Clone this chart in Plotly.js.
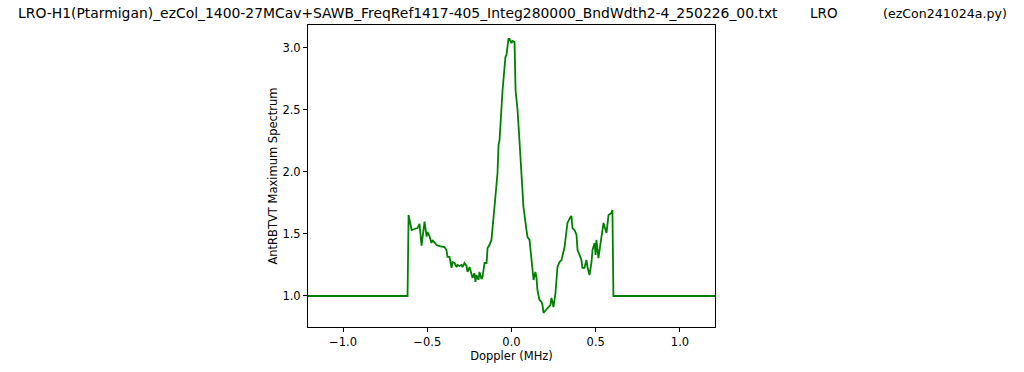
<!DOCTYPE html>
<html>
<head>
<meta charset="utf-8">
<script src="https://cdn.plot.ly/plotly-3.0.1.min.js"></script>
<style>html,body{margin:0;padding:0;background:#fff;}#chart{width:1024px;height:372px;}</style>
</head>
<body>
<div id="chart"></div>
<script>
const doppler = [
 -1.25, -0.617, -0.611, -0.593, -0.576, -0.558, -0.546, -0.534, -0.516, -0.504, -0.499, -0.487,
 -0.475, -0.469, -0.457, -0.445, -0.427, -0.409, -0.398, -0.386, -0.380, -0.368, -0.356, -0.350,
 -0.338, -0.326, -0.320, -0.309, -0.297, -0.291, -0.279, -0.267, -0.261, -0.249, -0.237, -0.231,
 -0.220, -0.214, -0.208, -0.196, -0.190, -0.178, -0.172, -0.160, -0.148, -0.142, -0.131, -0.119,
 -0.101, -0.083, -0.077, -0.071, -0.053, -0.036, -0.030, -0.018, -0.012, 0.000, 0.006, 0.018,
 0.024, 0.036, 0.047, 0.059, 0.071, 0.089, 0.095, 0.107, 0.119, 0.125, 0.131, 0.142, 0.148,
 0.154, 0.166, 0.178, 0.184, 0.190, 0.202, 0.214, 0.231, 0.237, 0.243, 0.249, 0.261, 0.267,
 0.273, 0.285, 0.297, 0.315, 0.326, 0.332, 0.350, 0.356, 0.362, 0.374, 0.386, 0.392, 0.404,
 0.415, 0.421, 0.433, 0.445, 0.451, 0.463, 0.475, 0.481, 0.493, 0.499, 0.504, 0.516, 0.528,
 0.534, 0.546, 0.564, 0.576, 0.593, 0.599, 0.605, 1.25
];
const spectrum = [
 1.000, 1.000, 1.653, 1.532, 1.540, 1.548, 1.581, 1.406, 1.599, 1.478, 1.516, 1.484,
 1.427, 1.452, 1.430, 1.411, 1.403, 1.399, 1.395, 1.371, 1.315, 1.315, 1.226, 1.274,
 1.266, 1.234, 1.250, 1.242, 1.250, 1.234, 1.266, 1.242, 1.194, 1.234, 1.169, 1.145,
 1.185, 1.113, 1.169, 1.129, 1.194, 1.137, 1.153, 1.266, 1.266, 1.387, 1.411, 1.452,
 1.718, 1.992, 2.218, 2.258, 2.661, 2.927, 2.944, 3.073, 3.073, 3.040, 3.056, 3.048,
 2.661, 2.500, 2.258, 1.992, 1.718, 1.532, 1.476, 1.452, 1.266, 1.185, 1.129, 1.194, 1.153,
 1.048, 0.968, 0.952, 0.927, 0.863, 0.887, 0.903, 0.927, 0.984, 0.952, 0.911, 1.024, 1.153,
 1.234, 1.274, 1.290, 1.395, 1.508, 1.589, 1.637, 1.645, 1.548, 1.532, 1.492, 1.371, 1.331,
 1.290, 1.226, 1.226, 1.290, 1.234, 1.169, 1.274, 1.371, 1.427, 1.331, 1.452, 1.306, 1.435,
 1.452, 1.589, 1.508, 1.653, 1.669, 1.694, 1.000, 1.000
];
const xTicks = [-1.0, -0.5, 0.0, 0.5, 1.0];
const yTicks = [1.0, 1.5, 2.0, 2.5, 3.0];
const titleParts = [
  'LRO-H1(Ptarmigan)_ezCol_1400-27MCav+SAWB_FreqRef1417-405_Integ280000_BndWdth2-4_250226_00.txt',
  'LRO',
  '(ezCon241024a.py)'
];

const trace = {
  x: doppler, y: spectrum, type: 'scatter', mode: 'lines',
  line: {color: '#008000', width: 1.8}, hoverinfo: 'skip'
};
const tickFont = {family: 'DejaVu Sans', size: 11.5, color: '#000'};
const axisCommon = {
  showline: true, mirror: true, linecolor: '#000', linewidth: 1,
  ticks: 'outside', ticklen: 4, tickwidth: 1, tickcolor: '#000',
  showgrid: false, zeroline: false, tickformat: '.1f',
  tickfont: tickFont
};
const W = 1024, H = 372;
const layout = {
  width: W, height: H,
  margin: {l: 308, r: 309, t: 25, b: 45},
  paper_bgcolor: '#fff', plot_bgcolor: '#fff',
  showlegend: false,
  font: {family: 'DejaVu Sans', color: '#000'},
  title: {text: titleParts[0], font: {family: 'DejaVu Sans', size: 13.9, color: '#000'},
    xref: 'container', x: 18/W, xanchor: 'left', yref: 'container', y: 1 - 13/H, yanchor: 'middle'},
  annotations: [
    {text: titleParts[1], xref: 'paper', yref: 'paper', x: (808-308)/407, y: (327-13)/302,
     xanchor: 'left', yanchor: 'middle', showarrow: false,
     font: {family: 'DejaVu Sans', size: 13.5, color: '#000'}},
    {text: titleParts[2], xref: 'paper', yref: 'paper', x: (881-308)/407, y: (327-13)/302,
     xanchor: 'left', yanchor: 'middle', showarrow: false,
     font: {family: 'DejaVu Sans', size: 12.6, color: '#000'}}
  ],
  xaxis: Object.assign({}, axisCommon, {
    range: [-1.208, 1.208], tickmode: 'array', tickvals: xTicks,
    title: {text: 'Doppler (MHz)', font: tickFont, standoff: 3}
  }),
  yaxis: Object.assign({}, axisCommon, {
    range: [0.75, 3.185], tickmode: 'array', tickvals: yTicks,
    title: {text: 'AntRBTVT Maximum Spectrum', font: tickFont, standoff: 2}
  })
};
Plotly.newPlot('chart', [trace], layout, {staticPlot: true, displayModeBar: false});
</script>
</body>
</html>
